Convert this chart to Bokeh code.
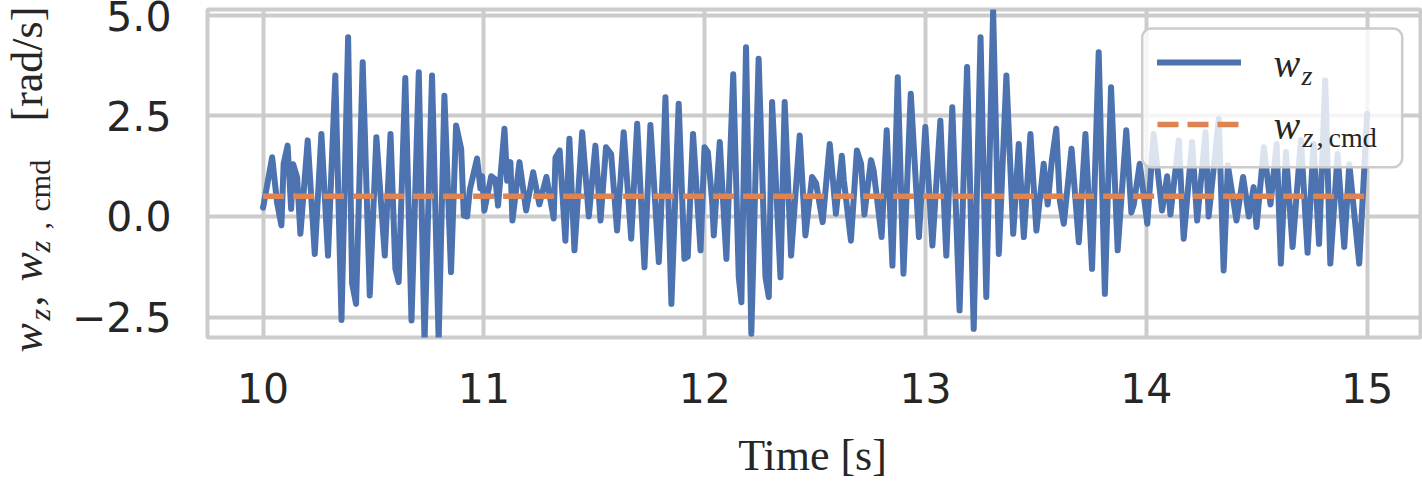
import math
from bokeh.plotting import figure
from bokeh.layouts import row, column
from bokeh.models import FixedTicker, Range1d, Label, Legend, LegendItem, BoxAnnotation
from bokeh.core.properties import value
from bokeh.embed import file_html
from bokeh.resources import INLINE

# ---------------- data ----------------
t_wz = [10.000, 10.041, 10.063, 10.083, 10.093, 10.111, 10.127, 10.136, 10.154, 10.169,
        10.202, 10.234, 10.264, 10.294, 10.327, 10.355, 10.385, 10.403, 10.421, 10.451,
        10.483, 10.513, 10.551, 10.577, 10.599, 10.614, 10.644, 10.672, 10.705, 10.731,
        10.765, 10.795, 10.821, 10.851, 10.874, 10.897, 10.909, 10.924, 10.936, 10.969,
        10.984, 10.992, 11.002, 11.033, 11.052, 11.064, 11.093, 11.105, 11.120, 11.129,
        11.161, 11.191, 11.223, 11.251, 11.283, 11.316, 11.324, 11.343, 11.369, 11.387,
        11.410, 11.445, 11.475, 11.505, 11.528, 11.553, 11.576, 11.603, 11.633, 11.667,
        11.694, 11.727, 11.754, 11.792, 11.812, 11.822, 11.849, 11.882, 11.908, 11.923,
        11.947, 11.981, 11.999, 12.014, 12.034, 12.041, 12.068, 12.098, 12.129, 12.154,
        12.166, 12.187, 12.211, 12.244, 12.275, 12.290, 12.305, 12.343, 12.362, 12.391,
        12.430, 12.456, 12.486, 12.504, 12.534, 12.566, 12.594, 12.621, 12.630, 12.662,
        12.689, 12.708, 12.723, 12.753, 12.765, 12.801, 12.824, 12.850, 12.874, 12.900,
        12.933, 12.970, 12.999, 13.031, 13.067, 13.094, 13.121, 13.154, 13.188, 13.218,
        13.249, 13.275, 13.306, 13.332, 13.366, 13.397, 13.422, 13.445, 13.475, 13.502,
        13.535, 13.553, 13.572, 13.592, 13.608, 13.626, 13.661, 13.694, 13.724, 13.754,
        13.784, 13.812, 13.840, 13.870, 13.909, 13.932, 13.943, 13.970, 14.004, 14.033,
        14.071, 14.094, 14.109, 14.147, 14.169, 14.207, 14.230, 14.268, 14.282, 14.328,
        14.350, 14.369, 14.408, 14.438, 14.464, 14.486, 14.499, 14.532, 14.562, 14.590,
        14.609, 14.632, 14.662, 14.700, 14.730, 14.757, 14.782, 14.810, 14.833, 14.866,
        14.896, 14.919, 14.964, 15.000]
wz = [0.22, 1.47, 0.35, -0.22, 1.31, 1.76, 0.19, 1.30, 0.97, -0.43,
      1.89, -0.93, 2.05, -0.97, 3.50, -2.57, 4.45, -1.66, -2.17, 3.83,
      -1.96, 1.97, -0.97, 2.05, -1.30, -1.63, 3.44, -2.58, 3.58, -3.10,
      3.50, -3.10, 3.00, -1.38, 2.26, 1.68, 0.02, 0.00, 0.66, 1.44,
      0.70, 1.00, 0.15, 1.00, 0.92, 0.27, 2.18, 0.89, 1.35, -0.10,
      1.35, 0.15, 1.10, 0.30, 0.98, -0.05, 1.46, 1.64, -0.60, 1.93,
      -0.84, 2.09, 0.00, 1.76, -0.10, 1.72, 1.55, -0.35, 2.09, -0.55,
      2.30, -1.26, 2.27, -1.13, 1.31, 2.96, -2.17, 2.80, -1.05, -1.00,
      2.05, -0.84, 1.72, 1.60, 0.34, -0.47, 1.85, -1.05, 3.53, -1.50,
      -2.13, 4.20, -2.91, 3.92, -1.50, -2.00, 2.84, -1.51, 2.84, -0.97,
      2.01, -0.47, 0.98, 0.83, -0.14, 1.80, 0.07, 1.51, 0.90, -0.60,
      1.64, 1.31, 0.05, 1.40, 1.14, -0.51, 2.14, -1.22, 3.46, -1.42,
      3.05, -0.51, 2.22, -0.72, 2.38, -0.97, 2.71, -2.33, 3.71, -2.79,
      4.45, -2.00, 5.11, -0.93, 3.50, -0.43, 1.80, -0.51, 2.05, -0.35,
      1.31, 0.30, 1.40, 2.18, 0.40, -0.18, 1.68, -0.64, 2.05, -1.30,
      4.08, -1.92, 3.21, -0.84, 2.14, 0.10, 0.30, 1.31, -0.18, 2.05,
      0.15, 1.00, 0.05, 1.89, -0.55, 1.85, -0.10, 2.09, 0.00, 2.42,
      -1.34, 1.27, -0.10, 0.98, 0.00, 0.73, -0.26, 1.72, 0.30, 1.80,
      -1.17, 1.60, -0.76, 1.90, -0.90, 1.80, -0.68, 3.38, -1.17, 1.55,
      -0.76, 1.30, -1.17, 2.55]
t_cmd = [10.0, 15.0]
wz_cmd = [0.5, 0.5]

x_ticks = [10, 11, 12, 13, 14, 15]
y_ticks = [-2.5, 0.0, 2.5, 5.0]
y_tick_labels = ["\u22122.5", "0.0", "2.5", "5.0"]
x_label = "Time [s]"

# ---------------- style / layout (page pixels) ----------------
BLUE = "#4c72b0"
ORANGE = "#dd8452"
GRID = "#cccccc"
TEXT = "#262626"
SERIF = "Liberation Serif"
BL = 0.3   # baseline correction (fraction of font size)

W, H = 1422, 486
YL_W = 56          # width of the strip holding the y-axis title
MAIN_H = 425       # height of the row (y title strip + main plot)
FRAME_L, FRAME_R, FRAME_T, FRAME_B = 207, 1420, 9, 337


def no_align(f):
    try:
        f.frame_align = False
    except Exception:
        pass
    return f


def blank(width, height):
    f = figure(width=width, height=height, output_backend="svg", toolbar_location=None,
               x_range=Range1d(0, width), y_range=Range1d(0, height),
               x_axis_type=None, y_axis_type=None,
               min_border_left=0, min_border_right=0, min_border_top=0, min_border_bottom=0)
    f.outline_line_color = None
    f.grid.visible = False
    f.background_fill_color = "white"
    f.border_fill_color = "white"
    return no_align(f)

# ---------------- main plot ----------------
p = figure(width=W - YL_W, height=MAIN_H, output_backend="svg", toolbar_location=None,
           x_range=Range1d(9.7482, 15.2414), y_range=Range1d(-3.005, 5.14),
           min_border_left=FRAME_L - YL_W, min_border_right=W - FRAME_R,
           min_border_top=FRAME_T, min_border_bottom=MAIN_H - FRAME_B)
no_align(p)
p.background_fill_color = "white"
p.border_fill_color = "white"
p.outline_line_color = GRID
p.outline_line_width = 4

p.xaxis.ticker = FixedTicker(ticks=x_ticks)
p.yaxis.ticker = FixedTicker(ticks=y_ticks)
p.yaxis.major_label_overrides = {k: v for k, v in zip(y_ticks, y_tick_labels)}
for ax in (p.xaxis, p.yaxis):
    ax.major_label_text_font = "DejaVu Sans"
    ax.major_label_text_font_size = "41px"
    ax.major_label_text_color = TEXT
    ax.axis_line_color = None
    ax.major_tick_line_color = None
    ax.minor_tick_line_color = None
    ax.major_tick_out = 0
    ax.major_tick_in = 0
p.xaxis.major_label_standoff = 35
p.yaxis.major_label_standoff = 36

p.grid.grid_line_color = GRID
p.grid.grid_line_width = 4

r_wz = p.line(t_wz, wz, line_color=BLUE, line_width=6, line_join="round", line_cap="round")
r_cmd = p.line(t_cmd, wz_cmd, line_color=ORANGE, line_width=5.5, line_dash="21 9")


def sx(x):  # page x -> screen units relative to frame left
    return x - FRAME_L


def sy(y):  # page y -> screen units relative to frame bottom (upwards)
    return FRAME_B - y


box = BoxAnnotation(left=sx(1141.7), right=sx(1401.7), top=sy(28), bottom=sy(166.7),
                    left_units="screen", right_units="screen", top_units="screen",
                    bottom_units="screen", fill_color="white", fill_alpha=0.8,
                    line_color=GRID, line_width=2.5, line_alpha=1.0)
try:
    box.border_radius = 9
except Exception:
    pass
p.add_layout(box)

legend = Legend(items=[LegendItem(label=" ", renderers=[r_wz]),
                       LegendItem(label=" ", renderers=[r_cmd])],
                location=(sx(1157), sy(143.7)), padding=0, margin=0, spacing=22,
                glyph_width=84, glyph_height=40, label_height=40, label_width=1,
                label_standoff=0, label_text_font_size="2px",
                background_fill_alpha=0, border_line_alpha=0)
p.add_layout(legend)


def put(text, x, y, size, style="normal"):
    # (x, y): wanted page position of the text's left end on its baseline
    p.add_layout(Label(x=sx(x), y=sy(y - BL * size), x_units="screen", y_units="screen",
                       text=text, text_font=SERIF, text_font_style=style,
                       text_font_size=f"{size}px", text_color=TEXT,
                       text_align="left", text_baseline="alphabetic"))


put("w", 1273, 75, 40, "italic")
put("z", 1301, 83, 28, "italic")
put("w", 1273, 137.3, 40, "italic")
put("z", 1302, 145, 28, "italic")
put(",", 1316, 145, 28)
put("cmd", 1328, 145, 28)

# ---------------- y-axis title strip ----------------
yl = blank(YL_W, MAIN_H)
MB, SB = 40, 48  # page x of main / subscript baselines
ylabel_parts = [("w", MB, 352, 44, "italic"), ("z", SB, 320, 30, "italic"),
                (",", MB, 306, 44, "normal"), ("w", MB, 281, 44, "italic"),
                ("z", SB, 252, 30, "italic"), (",", SB, 229, 30, "normal"),
                ("cmd", SB, 211, 30, "normal"), ("[rad/s]", MB, 121, 44, "normal")]
for txt, bx, by, size, style in ylabel_parts:
    yl.text(x=[bx - BL * size], y=[MAIN_H - by], text=[txt], angle=math.pi / 2,
            text_font=value(SERIF), text_font_style=style, text_font_size=f"{size}px",
            text_color=TEXT, text_align="left", text_baseline="alphabetic")

# ---------------- x-axis title strip ----------------
XL_H = H - MAIN_H
xl = blank(W, XL_H)
xl.text(x=[812], y=[H - 468 + BL * 44], text=[x_label], text_font=value(SERIF),
        text_font_size="44px", text_color=TEXT, text_align="center",
        text_baseline="alphabetic")

layout = column(row(yl, p, spacing=0), xl, spacing=0)
open("out.html", "w").write(file_html(layout, INLINE))
